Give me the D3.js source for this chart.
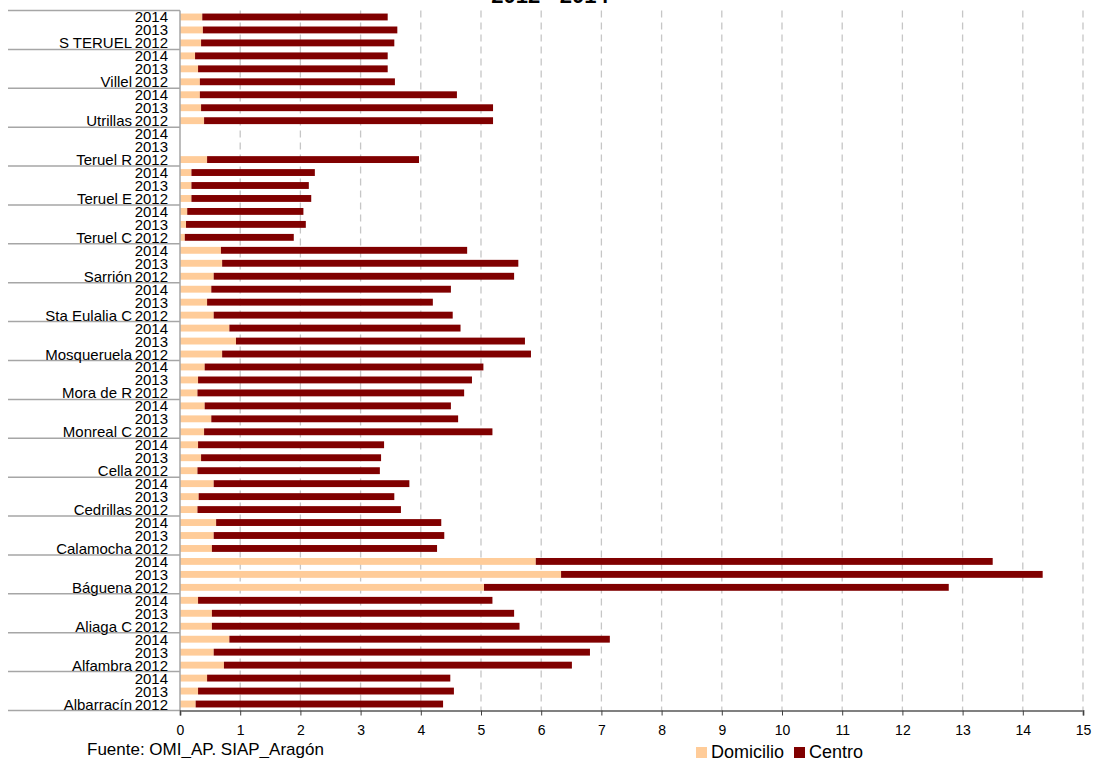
<!DOCTYPE html>
<html>
<head>
<meta charset="utf-8">
<script src="https://cdn.jsdelivr.net/npm/d3@7"></script>
<style>
  body { margin: 0; background: #fff; }
  svg { display: block; font-family: "Liberation Sans", Arial, sans-serif; }
</style>
</head>
<body>
<svg id="chart" width="1099" height="758"></svg>
<script>
// groups from top to bottom, years inside each group from top to bottom
const groups = ["S TERUEL", "Villel", "Utrillas", "Teruel R", "Teruel E", "Teruel C", "Sarrión",
  "Sta Eulalia C", "Mosqueruela", "Mora de R", "Monreal C", "Cella", "Cedrillas", "Calamocha",
  "Báguena", "Aliaga C", "Alfambra", "Albarracín"];
const years = ["2014", "2013", "2012"];

// values per group, in the order of years (2014, 2013, 2012)
const domicilio = [
  [0.37, 0.38, 0.35], [0.25, 0.30, 0.33], [0.33, 0.35, 0.40], [null, null, 0.45],
  [0.19, 0.19, 0.19], [0.12, 0.10, 0.08], [0.68, 0.70, 0.56], [0.52, 0.45, 0.56],
  [0.82, 0.93, 0.70], [0.41, 0.30, 0.29], [0.41, 0.52, 0.40], [0.30, 0.35, 0.29],
  [0.56, 0.31, 0.29], [0.60, 0.56, 0.53], [5.91, 6.33, 5.05], [0.30, 0.53, 0.53],
  [0.82, 0.56, 0.73], [0.45, 0.30, 0.26]
];
const centro = [
  [3.08, 3.23, 3.21], [3.20, 3.15, 3.24], [4.27, 4.85, 4.80], [null, null, 3.52],
  [2.05, 1.95, 1.99], [1.93, 1.99, 1.81], [4.09, 4.92, 4.99], [3.98, 3.75, 3.97],
  [3.84, 4.80, 5.13], [4.63, 4.55, 4.43], [4.09, 4.10, 4.79], [3.09, 2.99, 3.03],
  [3.25, 3.25, 3.38], [3.74, 3.83, 3.74], [7.59, 8.00, 7.72], [4.89, 5.02, 5.11],
  [6.32, 6.25, 5.78], [4.04, 4.25, 4.11]
];

const seriesNames = ["Domicilio", "Centro"];
const colors = ["#FFCC99", "#800000"];
const title = "2012 - 2014";
const source = "Fuente: OMI_AP. SIAP_Aragón";

const svg = d3.select("#chart");
const plotLeft = 180, plotRight = 1083, plotTop = 10.5, plotBottom = 710.5;

// one row per group/year
const rows = [];
groups.forEach((g, gi) => {
  years.forEach((yr, yi) => {
    rows.push({ key: g + "|" + yr, group: g, year: yr, dom: domicilio[gi][yi], cen: centro[gi][yi], gi, yi });
  });
});

const x = d3.scaleLinear().domain([0, 15]).range([plotLeft, plotRight]);
const y = d3.scaleBand()
  .domain(rows.map(d => d.key))
  .range([plotTop, plotBottom])
  .paddingInner(0.47)
  .paddingOuter(0.235);
const step = y.step();

// title (mostly cut off at the top edge)
svg.append("text")
  .attr("x", 550).attr("y", 3)
  .attr("text-anchor", "middle")
  .style("font-size", "22px").style("font-weight", "bold")
  .text(title);

// dashed gridlines
svg.append("g").selectAll("line")
  .data(x.ticks(15).filter(t => t > 0))
  .enter().append("line")
  .attr("x1", d => x(d)).attr("x2", d => x(d))
  .attr("y1", plotTop).attr("y2", plotBottom)
  .attr("stroke", "#c6c6c6")
  .attr("stroke-width", 1.3)
  .attr("stroke-dasharray", "7,5");

// bars
const barG = svg.append("g");
const valid = rows.filter(d => d.dom != null);
barG.selectAll("rect.dom")
  .data(valid)
  .enter().append("rect")
  .attr("class", "dom")
  .attr("x", x(0))
  .attr("y", d => y(d.key))
  .attr("width", d => x(d.dom) - x(0))
  .attr("height", y.bandwidth())
  .attr("fill", colors[0]);
barG.selectAll("rect.cen")
  .data(valid)
  .enter().append("rect")
  .attr("class", "cen")
  .attr("x", d => x(d.dom))
  .attr("y", d => y(d.key))
  .attr("width", d => x(d.dom + d.cen) - x(d.dom))
  .attr("height", y.bandwidth())
  .attr("fill", colors[1]);

// group separators and y axis line
const sepG = svg.append("g");
groups.forEach((g, gi) => {
  const yy = plotTop + gi * 3 * step;
  sepG.append("line")
    .attr("x1", 8).attr("x2", plotLeft)
    .attr("y1", yy).attr("y2", yy)
    .attr("stroke", "#a6a6a6").attr("stroke-width", 1.5);
});
sepG.append("line")
  .attr("x1", 8).attr("x2", plotLeft)
  .attr("y1", plotBottom).attr("y2", plotBottom)
  .attr("stroke", "#a6a6a6").attr("stroke-width", 1.5);
sepG.append("line")
  .attr("x1", plotLeft).attr("x2", plotLeft)
  .attr("y1", plotTop).attr("y2", plotBottom)
  .attr("stroke", "#a6a6a6").attr("stroke-width", 1.5);

// year labels + group labels
const labelG = svg.append("g").style("font-size", "15px").attr("fill", "#000");
rows.forEach(d => {
  const cy = y(d.key) + y.bandwidth() / 2 + 5.5;
  labelG.append("text")
    .attr("x", 168).attr("y", cy)
    .attr("text-anchor", "end")
    .text(d.year);
  if (d.yi === 2) {
    labelG.append("text")
      .attr("x", 132).attr("y", cy)
      .attr("text-anchor", "end")
      .text(d.group);
  }
});

// x axis
const xAxis = d3.axisBottom(x).ticks(15).tickSize(5).tickPadding(10).tickFormat(d3.format("d"));
const axG = svg.append("g")
  .attr("transform", `translate(0,${plotBottom})`)
  .call(xAxis);
axG.select(".domain").attr("stroke", "#808080").attr("stroke-width", 2);
axG.selectAll(".tick line").attr("stroke", "#404040");
axG.selectAll(".tick text")
  .attr("fill", "#000")
  .style("font-size", "14px")
  .style("font-family", "'Liberation Sans', Arial, sans-serif");

// source
svg.append("text")
  .attr("x", 87).attr("y", 755)
  .style("font-size", "17px")
  .text(source);

// legend
const legend = svg.append("g");
const legendX = [696, 794];
seriesNames.forEach((name, i) => {
  legend.append("rect")
    .attr("x", legendX[i]).attr("y", 747)
    .attr("width", 11).attr("height", 11)
    .attr("fill", colors[i]);
  legend.append("text")
    .attr("x", legendX[i] + 15).attr("y", 758)
    .style("font-size", "18px")
    .text(name);
});
</script>
</body>
</html>
